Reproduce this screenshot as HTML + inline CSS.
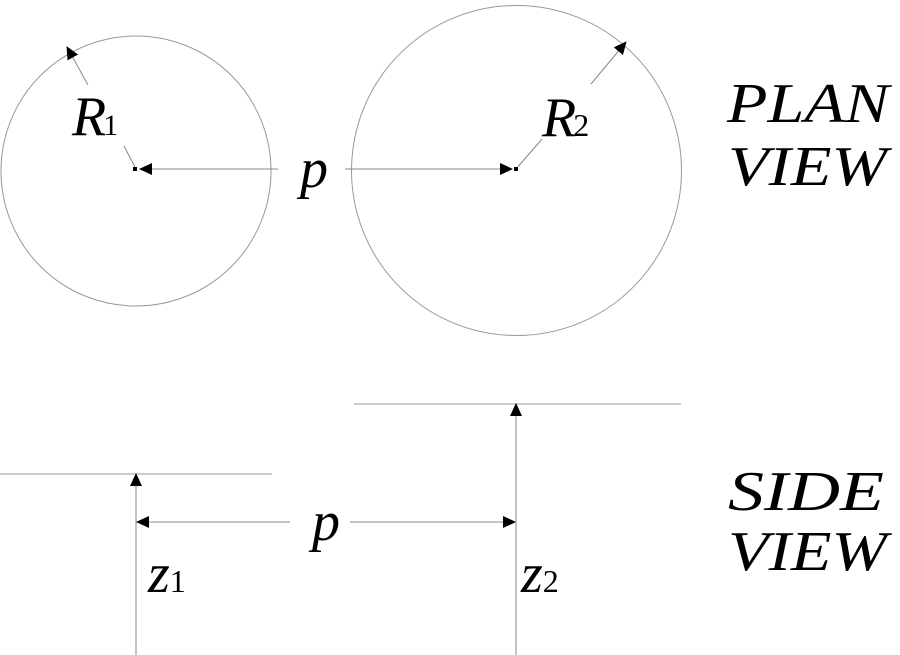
<!DOCTYPE html>
<html><head><style>body{margin:0;background:#fff}svg{display:block}</style></head><body>
<svg width="900" height="655" xmlns="http://www.w3.org/2000/svg" font-family="'Liberation Serif',serif" font-style="italic">
<defs><marker id="a" markerWidth="13" markerHeight="12" refX="12" refY="6" orient="auto" markerUnits="userSpaceOnUse"><path d="M0,0 L13,6 L0,12Z" fill="#000"/></marker></defs>
<g fill="none" stroke="#999" stroke-width="1">
<circle cx="136" cy="171" r="135"/>
<circle cx="516.5" cy="170.5" r="165"/>
<line x1="0" y1="474" x2="272" y2="474"/>
<line x1="354" y1="404" x2="681" y2="404"/>
</g>
<g stroke="#888" stroke-width="1" fill="none">
<line x1="88" y1="85" x2="67" y2="47" marker-end="url(#a)"/>
<line x1="136" y1="169" x2="124" y2="146"/>
<line x1="278" y1="169" x2="140" y2="169" marker-end="url(#a)"/>
<line x1="345" y1="169" x2="512" y2="169" marker-end="url(#a)"/>
<line x1="516" y1="169" x2="542" y2="139"/>
<line x1="591" y1="84" x2="626" y2="42" marker-end="url(#a)"/>
<line x1="136" y1="655" x2="136" y2="474" marker-end="url(#a)"/>
<line x1="516" y1="655" x2="516" y2="404" marker-end="url(#a)"/>
<line x1="290" y1="522" x2="137" y2="522" marker-end="url(#a)"/>
<line x1="350" y1="522" x2="515" y2="522" marker-end="url(#a)"/>
</g>
<rect x="133" y="167" width="4" height="4" fill="#000"/>
<rect x="514" y="167" width="4" height="4" fill="#000"/>
<g fill="#000" font-size="56">
<text x="72" y="135">R<tspan font-size="30" font-style="normal" dx="-3">1</tspan></text>
<text x="542" y="136">R<tspan font-size="32" font-style="normal" dx="-3">2</tspan></text>
<text x="300" y="187">p</text>
<text x="312" y="540">p</text>
<text x="148" y="592">z<tspan font-size="32" font-style="normal">1</tspan></text>
<text x="521" y="592">z<tspan font-size="32" font-style="normal">2</tspan></text>
<text x="727" y="122" textLength="162" lengthAdjust="spacingAndGlyphs">PLAN</text>
<text x="728" y="185" textLength="159" lengthAdjust="spacingAndGlyphs">VIEW</text>
<text x="728" y="510" textLength="156" lengthAdjust="spacingAndGlyphs">SIDE</text>
<text x="728" y="570" textLength="159" lengthAdjust="spacingAndGlyphs">VIEW</text>
</g>
</svg>
</body></html>
